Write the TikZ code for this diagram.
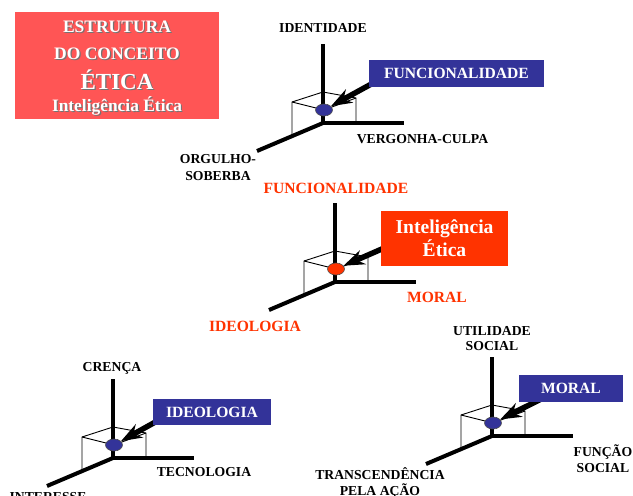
\documentclass[tikz,border=0pt]{standalone}
\usepackage{fontspec}
\setmainfont{Liberation Serif}
\usetikzlibrary{arrows.meta,shapes.geometric}
\definecolor{navy}{HTML}{333399}
\definecolor{orangered}{HTML}{FF3300}
\definecolor{salmon}{HTML}{FF5555}
\newcommand\shtext[1]{\leavevmode\rlap{\hspace{1.2pt}\raisebox{-1.2pt}{\textcolor{black!55}{#1}}}#1}
\pgfdeclarelayer{front}
\pgfsetlayers{main,front}
\begin{document}
\begin{tikzpicture}[x=1pt,y=-1pt,
  axis/.style={line width=4pt},
  thinline/.style={line width=0.9pt},
  dotshape/.style={ellipse, draw=black!70, line width=0.6pt, minimum width=17pt, minimum height=12pt, inner sep=0pt},
  pointer/.style={line width=5.5pt, -{Stealth[length=21pt,width=15pt,inset=7pt]}},
  lbl/.style={font=\fontsize{13.7}{16}\selectfont\bfseries, anchor=base, inner sep=0pt, align=center},
  redlbl/.style={font=\fontsize{15.6}{18}\selectfont\bfseries, text=orangered, anchor=base, inner sep=0pt},
  tag/.style={fill=navy, text=white, font=\fontsize{15.6}{18}\selectfont\bfseries, inner sep=0pt},
  titleln/.style={text=white, anchor=base, inner sep=0pt},
  pics/axes/.style={code={
    \coordinate (-o) at (0,0);
    \coordinate (-up) at (0,-79);
    \coordinate (-rt) at (81,0);
    \coordinate (-dg) at (-66,28);
    \coordinate (-bl) at (-31,13.2);
    \coordinate (-tl) at (-31,-21);
    \coordinate (-tb) at (0,-31);
    \coordinate (-tr) at (33,-25);
    \coordinate (-br) at (33,0);
    \coordinate (-tf) at (1,-13);
    \draw[thinline] (-bl) -- (-tl) -- (-tb) -- (-tr) -- (-br);
    \draw[thinline] (-tl) -- (-tf) -- (-tr);
    \draw[axis] (-up) -- (-o) -- (-rt);
    \draw[axis] (-o) -- (-dg);
    \node[dotshape, fill=#1] (-dot) at (-tf) {};
  }}
]
\useasboundingbox (0,0) rectangle (633,496);
\fill[white] (0,0) rectangle (633,496);
\clip (0,0) rectangle (633,496);

% title
\node[fill=salmon, minimum width=204pt, minimum height=107pt, inner sep=0pt] (titleBox) at (117,65.5) {};
\node[titleln, font=\fontsize{17.5}{20}\selectfont\bfseries] (t1) at (117,32) {\shtext{ESTRUTURA}};
\node[titleln, font=\fontsize{17.5}{20}\selectfont\bfseries] (t2) at (117,59) {\shtext{DO CONCEITO}};
\node[titleln, font=\fontsize{23}{26}\selectfont\bfseries] (t3) at (117,89) {\shtext{ÉTICA}};
\node[titleln, font=\fontsize{17.4}{20}\selectfont\bfseries] (t4) at (117,111) {\shtext{Inteligência Ética}};

% axes
\pic (top) at (323,123) {axes=navy};
\pic (mid) at (335,282) {axes=orangered};
\pic (bl) at (113,458) {axes=navy};
\pic (br) at (492,436) {axes=navy};

% tags
\begin{pgfonlayer}{front}
\node[tag, minimum width=175pt, minimum height=27pt] (topTag) at (456.5,73.5) {FUNCIONALIDADE};
\node[tag, fill=orangered, minimum width=127pt, minimum height=55pt, font=\fontsize{19.6}{23}\selectfont\bfseries, align=center] (midTag) at (444.5,238) {Inteligência\\Ética};
\node[tag, minimum width=118pt, minimum height=26pt] (blTag) at (212,412) {IDEOLOGIA};
\node[tag, minimum width=104pt, minimum height=27pt] (brTag) at (571,388.5) {MORAL};
\end{pgfonlayer}

% pointers
\draw[pointer] ([shift={(4pt,4pt)}]topTag.south west) -- (top-dot);
\draw[pointer] ([shift={(4pt,18pt)}]midTag.south west) -- (mid-dot);
\draw[pointer] ([shift={(4pt,4pt)}]blTag.south west) -- (bl-dot);
\draw[pointer] ([shift={(24pt,4pt)}]brTag.south west) -- (br-dot);

% black labels (multi-line nodes: base = last line)
\node[lbl] (identidade) at (323,32) {IDENTIDADE};
\node[lbl] (vergonha) at (422.5,143) {VERGONHA-CULPA};
\node[lbl, font=\fontsize{13.7}{17}\selectfont\bfseries] (orgulho) at (218,180) {ORGULHO-\\SOBERBA};
\node[lbl] (crenca) at (112,371.5) {CRENÇA};
\node[lbl] (tecnologia) at (204,476) {TECNOLOGIA};
\node[lbl] (interesse) at (48,501.4) {INTERESSE};
\node[lbl, font=\fontsize{13.7}{15}\selectfont\bfseries] (utilidade) at (492,350) {UTILIDADE\\SOCIAL};
\node[lbl, font=\fontsize{13.7}{15.5}\selectfont\bfseries] (funcao) at (603,472) {FUNÇÃO\\SOCIAL};
\node[lbl, font=\fontsize{13.7}{16}\selectfont\bfseries] (transc) at (380,495) {TRANSCENDÊNCIA\\PELA AÇÃO};

% red labels
\node[redlbl] (funcRed) at (336,193) {FUNCIONALIDADE};
\node[redlbl] (moralRed) at (437,302) {MORAL};
\node[redlbl] (ideoRed) at (255,331) {IDEOLOGIA};
\end{tikzpicture}
\end{document}
